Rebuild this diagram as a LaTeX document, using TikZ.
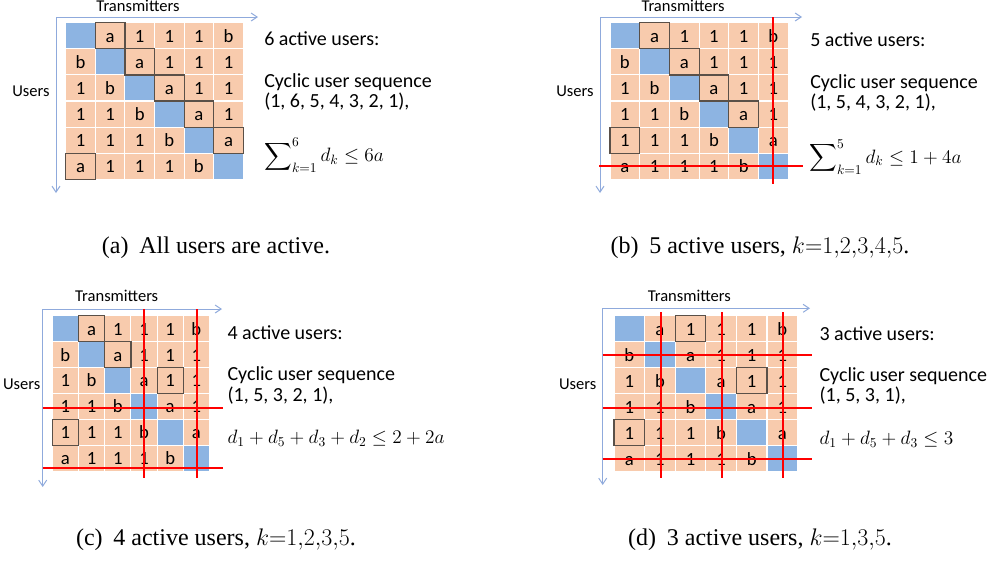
\RequirePackage{fix-cm}
\documentclass[tikz,border=0pt]{standalone}
\usepackage{amsmath}
\usepackage[no-math]{fontspec}
\setmainfont{Liberation Serif}
\newfontfamily\calib{Carlito}
\usetikzlibrary{arrows.meta}
\definecolor{peach}{HTML}{F8CBAD}
\definecolor{cblue}{HTML}{8DB4E2}
\definecolor{axisblue}{HTML}{8FAADC}
\definecolor{boxgray}{HTML}{5A5048}
\definecolor{redl}{HTML}{FF0000}
\tikzset{
  cell/.style={draw=white, line width=0.8pt, fill=peach, inner sep=0pt, outer sep=0pt,
    font=\calib\fontsize{14}{16}\selectfont, text height=9.8pt, text depth=0pt, text=black},
  bluecell/.style={cell, fill=cblue},
  boxline/.style={draw=boxgray, line width=0.9pt},
  axisline/.style={draw=axisblue, line width=0.75pt, -{Straight Barb[length=4.5pt, width=6pt]}},
  redline/.style={draw=redl, line width=1.5pt},
  txt/.style={font=\calib\fontsize{15}{18}\selectfont, inner sep=0pt, anchor=base west},
  lab/.style={font=\calib\fontsize{12.4}{14}\selectfont, inner sep=0pt, anchor=base},
  fml/.style={font=\fontsize{14.5}{16}\selectfont, inner sep=0pt, anchor=base west},
  captxt/.style={font=\fontsize{18}{20}\selectfont, inner sep=0pt, anchor=base},
}
\newcommand{\mycells}[5]{%
  \foreach \rowlist [count=\ri] in {{X,a,1,1,1,b},{b,X,a,1,1,1},{1,b,X,a,1,1},{1,1,b,X,a,1},{1,1,1,b,X,a},{a,1,1,1,b,X}}{%
    \foreach \v [count=\ci] in \rowlist {%
      \ifnum\ri=\ci\relax
        \node[bluecell, minimum width=#4*0.75pt, minimum height=#5*0.75pt] (#1-\ri-\ci) at ({#2+(\ci-0.5)*#4},{#3+(\ri-0.5)*#5}) {};
      \else
        \node[cell, minimum width=#4*0.75pt, minimum height=#5*0.75pt] (#1-\ri-\ci) at ({#2+(\ci-0.5)*#4},{#3+(\ri-0.5)*#5}) {\v};
      \fi
    }%
  }%
}
\newcommand{\boxcell}[1]{\draw[boxline] (#1.north west) rectangle (#1.south east);}
\begin{document}
\begin{tikzpicture}[x=0.75pt,y=-0.75pt]
\useasboundingbox (0,0) rectangle (1000,561);

% ---------- (a) ----------
\mycells{A}{65.7}{22.7}{29.6}{26.1}
\boxcell{A-1-2}\boxcell{A-2-3}\boxcell{A-3-4}\boxcell{A-4-5}\boxcell{A-5-6}\boxcell{A-6-1}
\coordinate (A-o) at (56,17);
\coordinate (A-x) at (258,17);
\coordinate (A-y) at (56,193);
\draw[axisline] (A-o) -- (A-x);
\draw[axisline] (A-o) -- (A-y);
\node[lab] (A-tr) at (138,11.5) {Transmitters};
\node[lab] (A-us) at (31,96.7) {Users};
\node[txt] (A-t1) at (264,45.7) {6 active users:};
\node[txt] (A-t2) at (264,87.3) {Cyclic user sequence};
\node[txt] (A-t3) at (264,107.3) {(1, 6, 5, 4, 3, 2, 1),};
\node[fml] (A-f) at (264,161.7) {$\displaystyle\sum\nolimits_{k=1}^{6} d_k \le 6a$};
\node[captxt] (A-cap) at (216,253) {(a)\hspace{0.45em}All users are active.};

% ---------- (b) ----------
\mycells{B}{610}{22.7}{29.7}{26.1}
\boxcell{B-1-2}\boxcell{B-2-3}\boxcell{B-3-4}\boxcell{B-4-5}\boxcell{B-5-1}
\coordinate (B-o) at (600,17);
\coordinate (B-x) at (802,17);
\coordinate (B-y) at (600,193);
\draw[axisline] (B-o) -- (B-x);
\draw[axisline] (B-o) -- (B-y);
\draw[redline] (773.3,17) -- (773.3,184);
\draw[redline] (599,166) -- (803,166);
\node[lab] (B-tr) at (683,11.5) {Transmitters};
\node[lab] (B-us) at (575,96.7) {Users};
\node[txt] (B-t1) at (810,46.7) {5 active users:};
\node[txt] (B-t2) at (810,88.3) {Cyclic user sequence};
\node[txt] (B-t3) at (810,108.3) {(1, 5, 4, 3, 2, 1),};
\node[fml] (B-f) at (809,163) {$\displaystyle\sum\nolimits_{k=1}^{5} d_k \le 1+4a$};
\node[captxt] (B-cap) at (760,253) {(b)\hspace{0.45em}5 active users, $k{=}1{,}2{,}3{,}4{,}5$.};

% ---------- (c) ----------
\mycells{C}{52.3}{315.7}{26.2}{25.9}
\boxcell{C-1-2}\boxcell{C-2-3}\boxcell{C-3-5}\boxcell{C-5-1}
\coordinate (C-o) at (42.7,309);
\coordinate (C-x) at (222,309);
\coordinate (C-y) at (42.7,487);
\draw[axisline] (C-o) -- (C-x);
\draw[axisline] (C-o) -- (C-y);
\draw[redline] (144.3,309) -- (144.3,477.7);
\draw[redline] (196.7,309) -- (196.7,477.7);
\draw[redline] (42.7,407.7) -- (222.7,407.7);
\draw[redline] (42.7,467.7) -- (222.7,467.7);
\node[lab] (C-tr) at (116.7,301.7) {Transmitters};
\node[lab] (C-us) at (21.7,389) {Users};
\node[txt] (C-t1) at (227.3,339.3) {4 active users:};
\node[txt] (C-t2) at (227.3,380.7) {Cyclic user sequence};
\node[txt] (C-t3) at (227.3,401.7) {(1, 5, 3, 2, 1),};
\node[fml] (C-f) at (227.3,443.3) {$d_1+d_5+d_3+d_2\le 2+2a$};
\node[captxt] (C-cap) at (216,545) {(c)\hspace{0.45em}4 active users, $k{=}1{,}2{,}3{,}5$.};

% ---------- (d) ----------
\mycells{D}{614}{315.7}{30.6}{26}
\boxcell{D-1-3}\boxcell{D-3-5}\boxcell{D-5-1}
\coordinate (D-o) at (602.7,308.3);
\coordinate (D-x) at (810,308.3);
\coordinate (D-y) at (602.7,485);
\draw[axisline] (D-o) -- (D-x);
\draw[axisline] (D-o) -- (D-y);
\draw[redline] (660.7,312) -- (660.7,477.7);
\draw[redline] (721.7,312) -- (721.7,477.7);
\draw[redline] (782.7,312) -- (782.7,477.7);
\draw[redline] (602.7,355) -- (812,355);
\draw[redline] (602.7,408.3) -- (812,408.3);
\draw[redline] (602.7,459) -- (812,459);
\node[lab] (D-tr) at (689.3,301.7) {Transmitters};
\node[lab] (D-us) at (577.7,389) {Users};
\node[txt] (D-t1) at (819.3,340) {3 active users:};
\node[txt] (D-t2) at (819.3,381.7) {Cyclic user sequence};
\node[txt] (D-t3) at (819.3,401.7) {(1, 5, 3, 1),};
\node[fml] (D-f) at (819.3,444.3) {$d_1+d_5+d_3\le 3$};
\node[captxt] (D-cap) at (760,545) {(d)\hspace{0.45em}3 active users, $k{=}1{,}3{,}5$.};
\end{tikzpicture}
\end{document}
